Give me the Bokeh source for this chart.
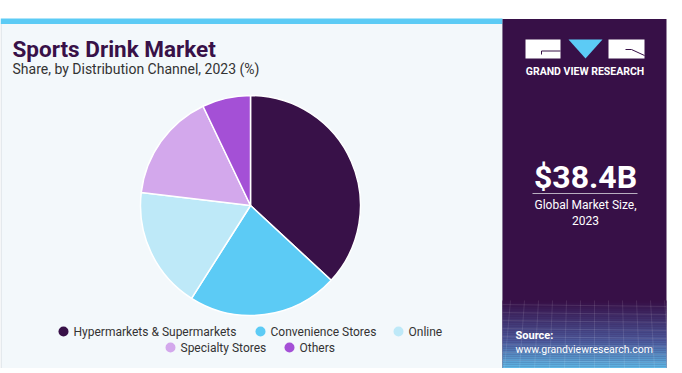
import numpy as np
from bokeh.plotting import figure
from bokeh.models import Range1d
from bokeh.core.properties import value
from bokeh.embed import file_html
from bokeh.resources import INLINE

# ---- data ----
categories = ["Hypermarkets & Supermarkets", "Convenience Stores", "Online",
              "Specialty Stores", "Others"]
shares = [36.9, 22.1, 17.9, 16.0, 7.1]
colors = ["#381148", "#5ccbf5", "#bee9f8", "#d3a8ec", "#a450d6"]
title = "Sports Drink Market"
subtitle = "Share, by Distribution Channel, 2023 (%)"
market_size = "$38.4B"
market_label = ["Global Market Size,", "2023"]

# ---- layout (page pixel coords) ----
W, H = 670, 368
PAGE_H = 373
def Y(py):
    return PAGE_H - py

p = figure(width=W, height=H, x_range=Range1d(0, W), y_range=Range1d(PAGE_H - H, PAGE_H),
           output_backend="svg", toolbar_location=None, x_axis_type=None, y_axis_type=None,
           min_border=0, background_fill_color="white", border_fill_color="white")
p.outline_line_color = None
p.grid.visible = False

FONT = value("Roboto")
DARK = "#381148"

# left light panel
p.quad(left=[0.5], right=[502], top=[Y(23)], bottom=[Y(368)], fill_color="#f3f8fb",
       line_color="#d5dae0", line_width=1)
# top cyan bar
p.quad(left=[0], right=[502], top=[Y(18)], bottom=[Y(23.5)], fill_color="#5ccbf5", line_color=None)
# right dark panel
p.quad(left=[502], right=[666], top=[Y(18.5)], bottom=[Y(368)], fill_color="#371047", line_color=None)

# gradient at bottom of right panel
c0 = np.array([0x37, 0x10, 0x47])
c1 = np.array([0x4c, 0x5a, 0x9c])
c2 = np.array([0x5e, 0xb8, 0xe6])
n = 34
y_top, y_bot = 300, 368
for i in range(n):
    t = i / (n - 1)
    if t < 0.6:
        c = c0 + (c1 - c0) * (t / 0.6)
    else:
        c = c1 + (c2 - c1) * ((t - 0.6) / 0.4)
    col = "#%02x%02x%02x" % tuple(int(v) for v in c)
    a = y_top + (y_bot - y_top) * i / n
    b = y_top + (y_bot - y_top) * (i + 1) / n
    p.quad(left=[502], right=[666], top=[Y(a)], bottom=[Y(b) - 0.3], fill_color=col, line_color=None)
# faint mesh lines
for k in range(8):
    yy = 304 + k * 8
    p.line(x=[502, 666], y=[Y(yy), Y(yy + 2)], line_color="white", line_alpha=0.1, line_width=1)
for k in range(12):
    xx = 510 + k * 14
    p.line(x=[xx, xx - 6 + k], y=[Y(300), Y(368)], line_color="white", line_alpha=0.1, line_width=1)

# ---- pie ----
frac = np.array(shares) / np.sum(shares)
cum = np.cumsum(frac)
start = np.pi / 2 - 2 * np.pi * (cum - frac)
end = np.pi / 2 - 2 * np.pi * cum
p.wedge(x=250, y=Y(205), radius=110, start_angle=start, end_angle=end, direction="clock",
        fill_color=colors, line_color="white", line_width=1.5)

# ---- titles ----
p.text(x=[12], y=[Y(48)], text=[title], text_font=FONT, text_font_size="22.5px",
       text_font_style="bold", text_color=DARK, text_baseline="middle")
p.text(x=[12], y=[Y(68)], text=[subtitle], text_font=FONT, text_font_size="14px",
       text_color="#333333", text_baseline="middle")

# ---- legend ----
leg_x = [63, 260, 398, 170, 289]
leg_y = [331, 331, 331, 347, 347]
p.scatter(x=leg_x, y=[Y(v) for v in leg_y], size=10, marker="circle", fill_color=colors, line_color=None)
p.text(x=[v + 10 for v in leg_x], y=[Y(v) for v in leg_y], text=categories, text_font=FONT,
       text_font_size="12px", text_color="#333333", text_baseline="middle")

# ---- logo ----
p.quad(left=[525, 608], right=[560, 644], top=[Y(39), Y(39)], bottom=[Y(58), Y(58)],
       fill_color="white", line_color=None)
p.patch(x=[568, 602, 585], y=[Y(39), Y(39), Y(58)], fill_color="#5ccbf5", line_color=None)
p.line(x=[560, 541, 541], y=[Y(50.5), Y(50.5), Y(54)], line_color="#371047", line_width=1)
p.line(x=[625, 631, 644], y=[Y(49), Y(49), Y(55)], line_color="#371047", line_width=1)
p.text(x=[584.5], y=[Y(70.5)], text=["GRAND VIEW RESEARCH"], text_font=FONT, text_font_size="10.5px",
       text_font_style="bold", text_color="white", text_align="center", text_baseline="middle")

# ---- market size ----
p.text(x=[585], y=[Y(176)], text=[market_size], text_font=FONT, text_font_size="32px",
       text_font_style="bold", text_color="white", text_align="center", text_baseline="middle")
p.line(x=[532, 637], y=[Y(193), Y(193)], line_color="#b8aec0", line_width=1)
p.text(x=[585, 585], y=[Y(204), Y(220)], text=market_label, text_font=FONT, text_font_size="12px",
       text_color="white", text_align="center", text_baseline="middle")

# ---- source ----
p.text(x=[515], y=[Y(335)], text=["Source:"], text_font=FONT, text_font_size="11px",
       text_font_style="bold", text_color="white", text_baseline="middle")
p.text(x=[515], y=[Y(349)], text=["www.grandviewresearch.com"], text_font=FONT, text_font_size="10.5px",
       text_color="white", text_baseline="middle")

open("out.html", "w").write(file_html(p, INLINE))
